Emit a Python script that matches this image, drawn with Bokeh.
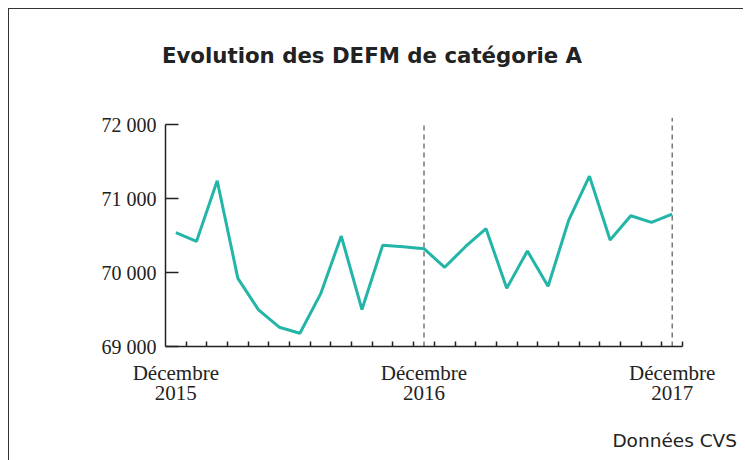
from bokeh.plotting import figure
from bokeh.models import Range1d, FixedTicker, Div
from bokeh.layouts import column
from bokeh.embed import file_html
from bokeh.resources import INLINE

months = list(range(25))  # Dec 2015 .. Dec 2017
defm = [70540, 70423, 71243, 69923, 69495, 69261, 69180, 69712, 70495, 69500,
        70369, 70350, 70324, 70072, 70351, 70595, 69788, 70293, 69815, 70712,
        71306, 70441, 70770, 70680, 70793]
year_ticks = [0, 12, 24]
year_labels = ["Décembre\n2015", "Décembre\n2016", "Décembre\n2017"]
y_ticks = [69000, 70000, 71000, 72000]
y_labels = ["69 000", "70 000", "71 000", "72 000"]
marker_idx = [12, 24]
marker_top = [72027, 72095]
title_text = "Evolution des DEFM de catégorie A"
note_text = "Données CVS"

serif = "Liberation Serif"
ink = "#222222"

W = 734
TITLE_H, FIG_H, NOTE_H = 51, 346, 43
BL, BR, BT, BB = 156, 61, 47, 70

title_div = Div(text=f'<div style="width:716px;text-align:center;padding-top:33px;'
                     f'font-family:\'DejaVu Sans\';font-weight:bold;font-size:21.3px;'
                     f'line-height:18px;color:{ink};white-space:nowrap;">{title_text}</div>',
                width=716, height=TITLE_H)

p = figure(width=W, height=FIG_H, output_backend="svg", toolbar_location=None,
           x_range=Range1d(-0.5, 24.5), y_range=Range1d(69000, 72100),
           min_border_left=BL, min_border_right=BR, min_border_top=BT,
           min_border_bottom=BB)
p.outline_line_color = None
p.grid.visible = False
p.background_fill_color = "white"

# x axis
xa = p.xaxis[0]
xa.ticker = FixedTicker(ticks=year_ticks, minor_ticks=[m + 0.5 for m in months])
xa.major_label_overrides = {t: l for t, l in zip(year_ticks, year_labels)}
xa.major_tick_in = 0
xa.major_tick_out = 0
xa.minor_tick_in = 5
xa.minor_tick_out = 0
xa.minor_tick_line_color = ink
xa.minor_tick_line_width = 1.5
xa.axis_line_color = ink
xa.axis_line_width = 1.5
xa.major_label_text_font = serif
xa.major_label_text_font_size = "21px"
xa.major_label_text_color = ink
xa.major_label_standoff = 14
xa.major_label_text_line_height = 0.84

# y axis
ya = p.yaxis[0]
ya.ticker = FixedTicker(ticks=y_ticks)
ya.bounds = (69000, 72000)
ya.major_label_overrides = {t: l for t, l in zip(y_ticks, y_labels)}
ya.major_tick_in = 13
ya.major_tick_out = 0
ya.minor_tick_line_color = None
ya.major_tick_line_color = ink
ya.major_tick_line_width = 1.5
ya.axis_line_color = ink
ya.axis_line_width = 1.5
ya.major_label_text_font = serif
ya.major_label_text_font_size = "20px"
ya.major_label_text_color = ink
ya.major_label_standoff = 9

# dashed year markers
p.segment(x0=marker_idx, y0=[69000] * len(marker_idx), x1=marker_idx, y1=marker_top,
          line_color="#333333", line_width=1, line_dash="5 4")

# data line
p.line(months, defm, line_color="#22B5A8", line_width=3)

note_div = Div(text=f'<div style="width:723px;text-align:right;padding-top:9px;'
                    f'font-family:\'DejaVu Sans\';font-size:18.5px;line-height:22px;'
                    f'color:{ink};white-space:nowrap;">{note_text}</div>',
               width=723, height=NOTE_H)

page = column(title_div, p, note_div, spacing=0,
              styles={"margin-left": "8px", "margin-top": "8px",
                      "border-left": "1.5px solid #333333",
                      "border-top": "1.5px solid #333333"})

open("out.html", "w").write(file_html(page, INLINE))
